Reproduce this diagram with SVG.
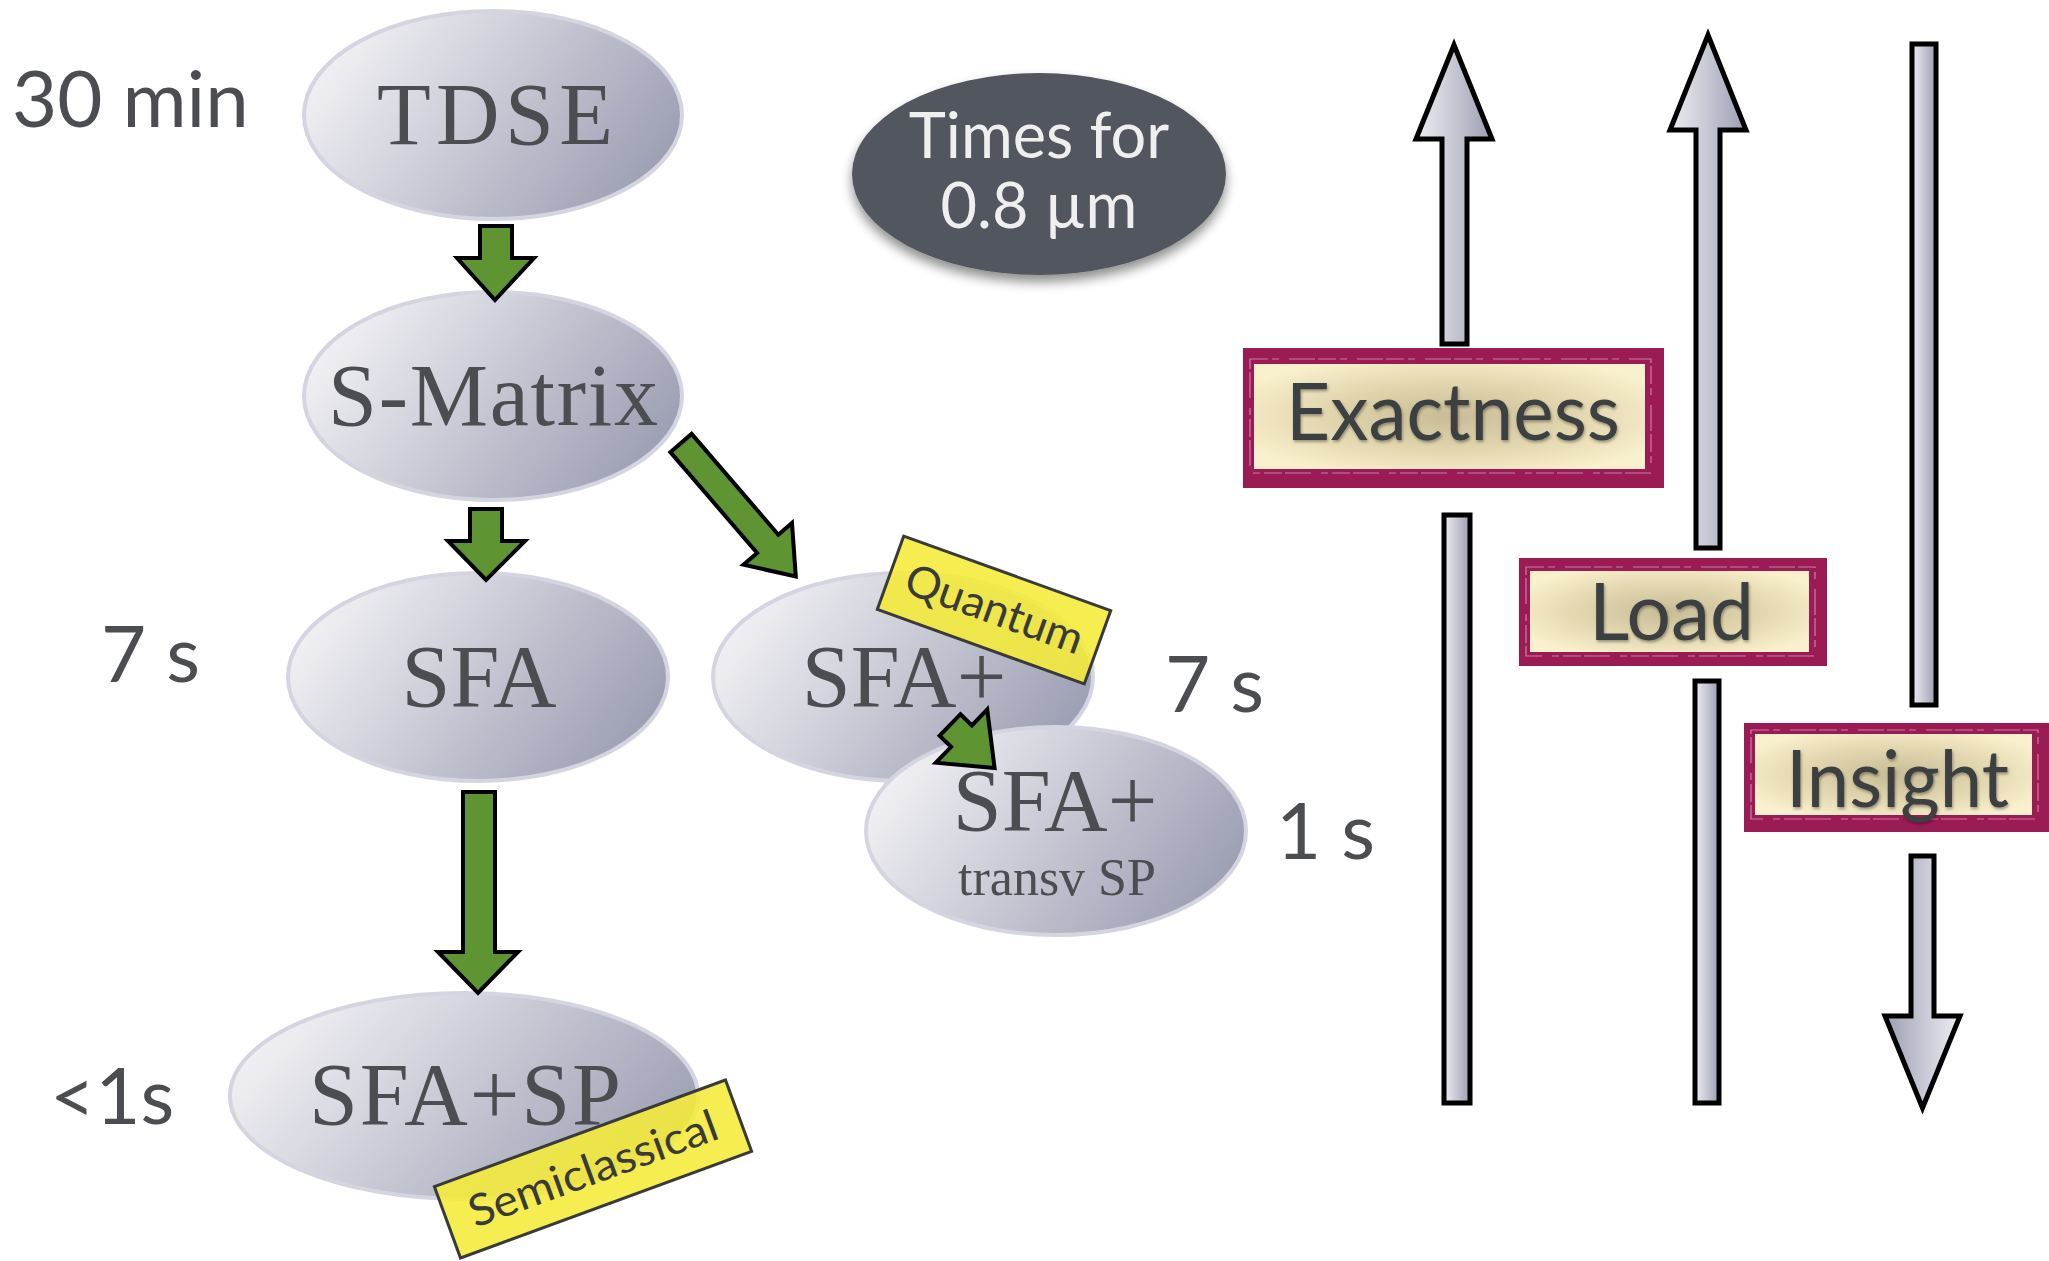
<svg xmlns="http://www.w3.org/2000/svg" width="2049" height="1261" viewBox="0 0 2049 1261">
<defs>
  <linearGradient id="nodeGrad" x1="0" y1="0.3" x2="1" y2="0.7">
    <stop offset="0" stop-color="#f3f3f6"/>
    <stop offset="0.5" stop-color="#c6c7d3"/>
    <stop offset="1" stop-color="#9a9cb1"/>
  </linearGradient>
  <linearGradient id="barGrad" x1="0" y1="0" x2="1" y2="0">
    <stop offset="0" stop-color="#ededf2"/>
    <stop offset="0.5" stop-color="#c6c7d3"/>
    <stop offset="1" stop-color="#9c9eb3"/>
  </linearGradient>
  <linearGradient id="barGradRev" x1="1" y1="0" x2="0" y2="0">
    <stop offset="0" stop-color="#ededf2"/>
    <stop offset="0.5" stop-color="#c6c7d3"/>
    <stop offset="1" stop-color="#9c9eb3"/>
  </linearGradient>
  <radialGradient id="creamGrad" cx="0.5" cy="0.5" r="0.6">
    <stop offset="0" stop-color="#c8bc97"/>
    <stop offset="0.55" stop-color="#e3d7b0"/>
    <stop offset="1" stop-color="#f9f0cd"/>
  </radialGradient>
  <filter id="shadow" x="-20%" y="-20%" width="140%" height="150%">
    <feGaussianBlur in="SourceAlpha" stdDeviation="6"/>
    <feOffset dx="0" dy="7" result="b"/>
    <feComponentTransfer><feFuncA type="linear" slope="0.45"/></feComponentTransfer>
    <feMerge><feMergeNode/><feMergeNode in="SourceGraphic"/></feMerge>
  </filter>
  <filter id="tshadow" x="-10%" y="-20%" width="120%" height="150%">
    <feGaussianBlur in="SourceAlpha" stdDeviation="1.5"/>
    <feOffset dx="1" dy="2" result="b"/>
    <feComponentTransfer><feFuncA type="linear" slope="0.35"/></feComponentTransfer>
    <feMerge><feMergeNode/><feMergeNode in="SourceGraphic"/></feMerge>
  </filter>
</defs>
<style>
  .node ellipse { fill: url(#nodeGrad); stroke: #d5d5e1; stroke-width: 4; }
  .ntext { font-family: "Liberation Serif", "Times New Roman", serif; fill: #4b4d50; text-anchor: middle; }
  .time { font-family: Lato, "Open Sans", "Liberation Sans", sans-serif; font-size: 78px; fill: #4b4d50; }
  .green { fill: #5e9432; stroke: #000; stroke-width: 4; stroke-linejoin: miter; }
  .bar { fill: url(#barGrad); stroke: #000; stroke-width: 5; stroke-linejoin: miter; }
  .bar.rev { fill: url(#barGradRev); }
  .tag rect { fill: #f5ec38; fill-opacity: 0.88; stroke: #3a3a3a; stroke-width: 3; }
  .tag text { font-family: Lato, "Open Sans", "Liberation Sans", sans-serif; font-size: 44px; fill: #3a3a3a; text-anchor: middle; }
  .frame .outer { fill: #9b1b55; }
  .frame .inner { fill: url(#creamGrad); }
  .frame .scratch { fill: none; stroke: #f1d6df; stroke-width: 1.2; stroke-dasharray: 18 4 7 10 26 3; opacity: 0.55; }
  .frame text { font-family: Lato, "Open Sans", "Liberation Sans", sans-serif; font-size: 80px; fill: #3d3f41; }
</style>

<rect width="2049" height="1261" fill="#ffffff"/>

<!-- time labels -->
<g id="time-labels">
  <text class="time" x="12" y="127">30 min</text>
  <text class="time" x="101" y="682">7 s</text>
  <text class="time" x="1165" y="712">7 s</text>
  <text class="time" x="1276" y="859">1 s</text>
  <text class="time" x="50" y="1124">&lt;1s</text>
</g>

<!-- nodes -->
<g id="node-tdse" class="node">
  <ellipse cx="493" cy="115" rx="189" ry="104"/>
  <text class="ntext" x="495" y="144" font-size="88" textLength="236" lengthAdjust="spacing">TDSE</text>
</g>
<g id="node-smatrix" class="node">
  <ellipse cx="493" cy="396" rx="189" ry="104"/>
  <text class="ntext" x="493" y="425" font-size="88" textLength="330" lengthAdjust="spacing">S-Matrix</text>
</g>
<g id="node-sfa" class="node">
  <ellipse cx="478" cy="677" rx="190" ry="104"/>
  <text class="ntext" x="479" y="706" font-size="88">SFA</text>
</g>
<g id="node-sfaplus" class="node">
  <ellipse cx="903" cy="677" rx="190" ry="104"/>
  <text class="ntext" x="904" y="706" font-size="88">SFA+</text>
</g>
<g id="tag-quantum" class="tag" transform="translate(994,610) rotate(19.8)">
  <rect x="-110" y="-39" width="220" height="78"/>
  <text x="0" y="14" textLength="186" lengthAdjust="spacingAndGlyphs">Quantum</text>
</g>
<g id="node-sfaplus-transv" class="node">
  <ellipse cx="1056" cy="831" rx="190" ry="104"/>
  <text class="ntext" x="1055" y="830" font-size="88">SFA+</text>
  <text class="ntext" x="1057" y="895" font-size="52">transv SP</text>
</g>
<g id="node-sfasp" class="node">
  <ellipse cx="464" cy="1096" rx="234" ry="103"/>
  <text class="ntext" x="465" y="1124" font-size="88" textLength="312" lengthAdjust="spacing">SFA+SP</text>
</g>
<g id="tag-semiclassical" class="tag" transform="translate(593,1169) rotate(-20.1)">
  <rect x="-155" y="-38" width="310" height="76"/>
  <text x="0" y="15" textLength="262" lengthAdjust="spacingAndGlyphs">Semiclassical</text>
</g>

<g id="node-times" filter="url(#shadow)">
  <ellipse cx="1039" cy="174" rx="187" ry="101" fill="#51565e"/>
  <text x="1039" y="158" font-family="Lato, 'Open Sans', 'Liberation Sans', sans-serif" font-size="63" fill="#efefef" text-anchor="middle">Times for</text>
  <text x="1039" y="228" font-family="Lato, 'Open Sans', 'Liberation Sans', sans-serif" font-size="63" fill="#efefef" text-anchor="middle">0.8 µm</text>
</g>

<!-- connectors -->
<g id="connectors">
  <polygon class="green" points="480,226 512,226 512,258 534,258 495,300 457,258 480,258"/>
  <polygon class="green" points="470,509 502,509 502,541 525,541 486,580 448,541 470,541"/>
  <polygon class="green" points="463,792 495,792 495,952 518,952 478,993 438,952 463,952"/>
  <polygon class="green" transform="translate(681,443) rotate(49.3)" points="0,-14 133,-14 133,-32 176,0 133,32 133,14 0,14"/>
  <polygon class="green" transform="translate(950,725) rotate(44)" points="0,-15 16,-15 16,-37 62,0 16,37 16,15 0,15"/>
</g>

<!-- right side scale arrows -->
<g id="arrow-exactness">
  <polygon class="bar" points="1442,344 1442,139 1416,139 1454,45 1492,139 1467,139 1467,344"/>
  <rect class="bar" x="1444" y="515" width="26" height="588"/>
</g>
<g id="arrow-load">
  <polygon class="bar" points="1696,548 1696,130 1670,130 1708,35 1746,130 1720,130 1720,548"/>
  <rect class="bar" x="1695" y="681" width="24" height="422"/>
</g>
<g id="arrow-insight">
  <rect class="bar" x="1912" y="44" width="24" height="661"/>
  <polygon class="bar rev" points="1911,856 1934,856 1934,1016 1960,1016 1922.5,1108 1885,1016 1911,1016"/>
</g>

<!-- label frames -->
<g id="label-exactness" class="frame">
  <rect class="outer" x="1243" y="348" width="421" height="140"/>
  <rect class="scratch" x="1250" y="359" width="401" height="114"/>
  <rect class="inner" x="1254" y="364" width="391" height="105"/>
  <text x="1286" y="440" textLength="334" lengthAdjust="spacingAndGlyphs" filter="url(#tshadow)">Exactness</text>
</g>
<g id="label-load" class="frame">
  <rect class="outer" x="1519" y="558" width="308" height="108"/>
  <rect class="scratch" x="1526" y="567" width="289" height="89"/>
  <rect class="inner" x="1530" y="571" width="279" height="81"/>
  <text x="1589" y="640" textLength="165" lengthAdjust="spacingAndGlyphs" filter="url(#tshadow)">Load</text>
</g>
<g id="label-insight" class="frame">
  <rect class="outer" x="1744" y="723" width="310" height="109"/>
  <rect class="scratch" x="1751" y="730" width="287" height="89"/>
  <rect class="inner" x="1755" y="734" width="277" height="81"/>
  <text x="1786" y="807" textLength="223" lengthAdjust="spacingAndGlyphs" filter="url(#tshadow)">Insight</text>
</g>
</svg>
